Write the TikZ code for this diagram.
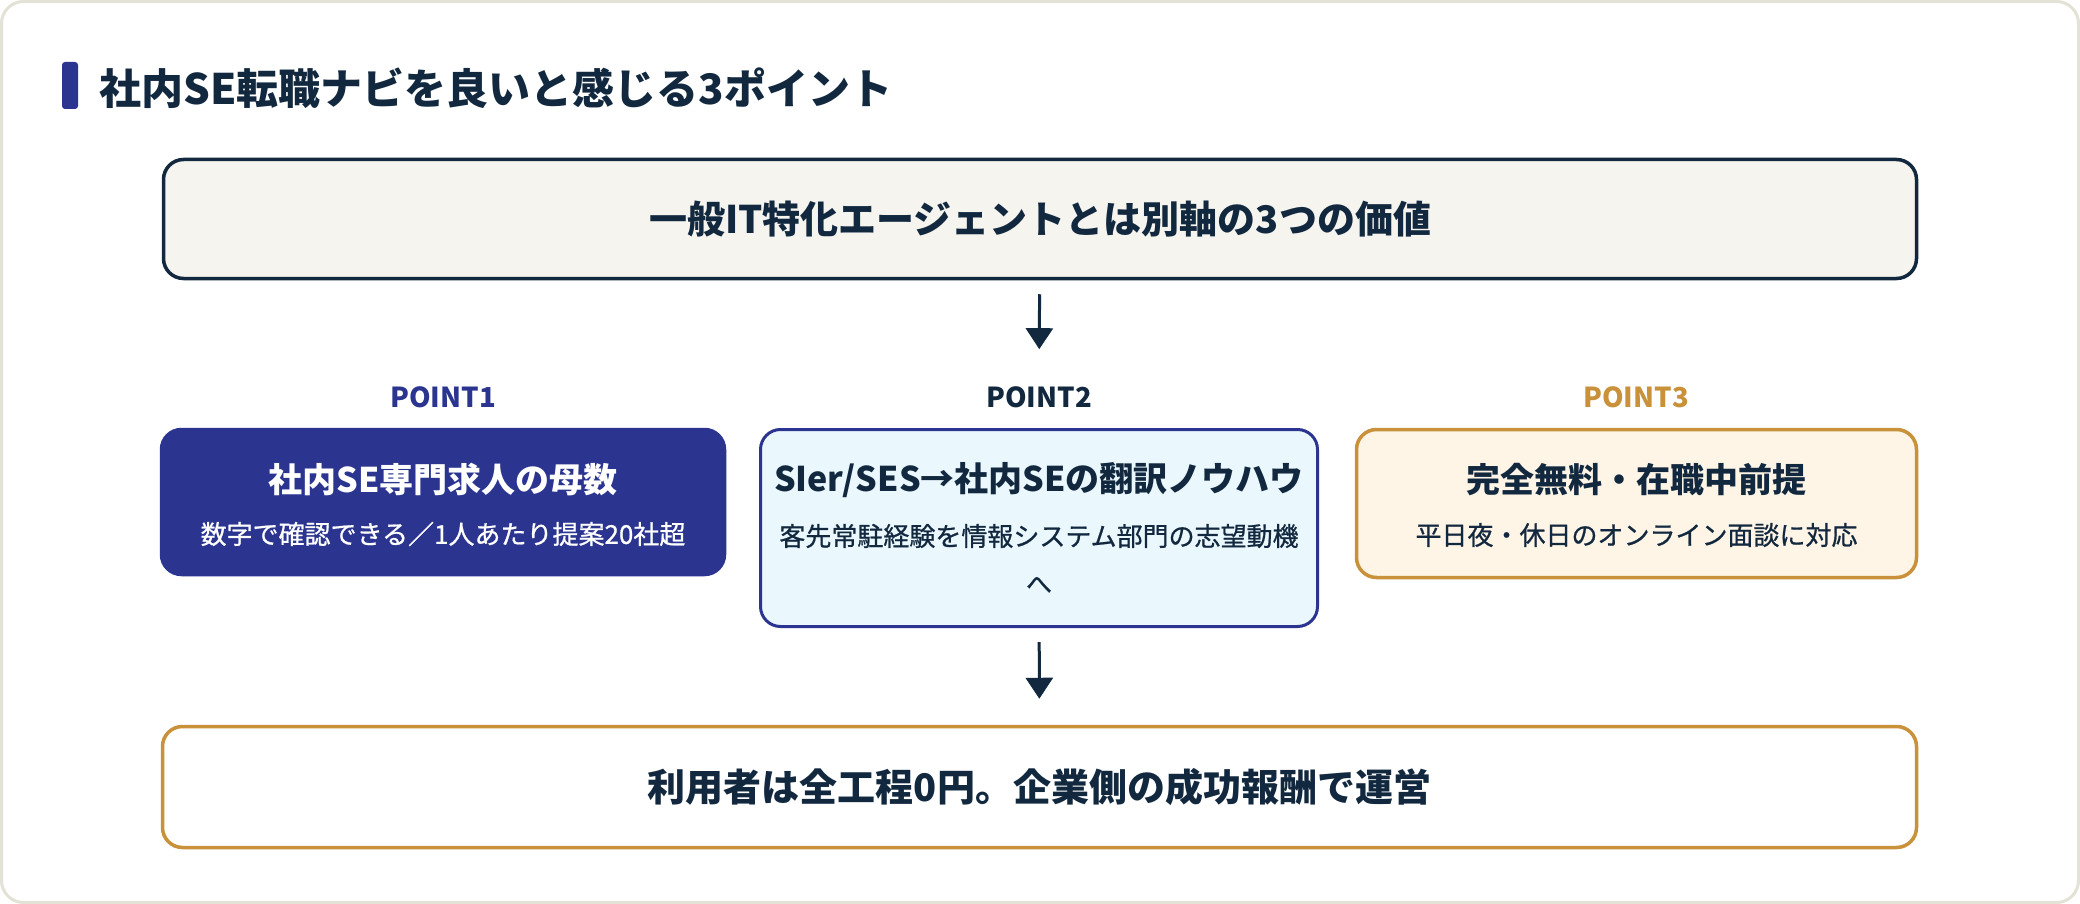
\documentclass[tikz,border=0pt]{standalone}
\usepackage{fontspec}
\setmainfont{Noto Sans CJK JP}
\newfontfamily\medfont{Noto Sans CJK JP}[FakeBold=0.8]
\usetikzlibrary{arrows.meta}
\definecolor{navy}{HTML}{12283F}
\definecolor{indigo}{HTML}{2B3590}
\definecolor{gold}{HTML}{C8913A}
\definecolor{paper}{HTML}{F5F4EF}
\definecolor{ice}{HTML}{EAF8FE}
\definecolor{cream}{HTML}{FEF5E6}
\definecolor{rim}{HTML}{E4E2D6}
\newcommand{\txtsize}[1]{\fontsize{#1}{#1}\selectfont}
\begin{document}
\begin{tikzpicture}[x=1pt, y=-1pt,
    card/.style={draw, rounded corners=20pt, line width=3.5pt, inner sep=0pt},
    flow/.style={navy, line width=3pt, -{Triangle[length=21pt, width=27pt]}},
    head/.style={font=\bfseries\txtsize{34}, text=navy, inner sep=0pt},
    sub/.style={font=\medfont\txtsize{26}, text=navy, inner sep=0pt, align=center},
    tag/.style={font=\bfseries\txtsize{27.5}, inner sep=0pt}]
    \useasboundingbox (0,0) rectangle (2080,904);
    \fill[white] (0,0) rectangle (2080,904);
    \draw[rim, line width=3pt, fill=white, rounded corners=22pt] (1.5,1.5) rectangle (2078.5,902.5);
    \fill[indigo, rounded corners=3pt] (62,62) rectangle (78,109);
    \node[anchor=west, font=\bfseries\txtsize{42}, text=navy, inner sep=0pt] (title) at (99,88) {社内SE転職ナビを良いと感じる3ポイント};

    \node[card, draw=navy, fill=paper, minimum width=1753pt, minimum height=119pt,
        font=\bfseries\txtsize{38}, text=navy] (top) at (1040,219) {一般IT特化エージェントとは別軸の3つの価値};

    \node[tag, text=indigo] (tag1) at (443,397) {POINT1};
    \node[tag, text=navy] (tag2) at (1039,397) {POINT2};
    \node[tag, text=gold] (tag3) at (1636,397) {POINT3};

    \node[card, draw=indigo, fill=indigo, minimum width=563pt, minimum height=145pt] (p1) at (443,502) {};
    \node[head, text=white] (p1head) at (443,480) {社内SE専門求人の母数};
    \node[sub, text=white] (p1sub) at (443,534) {数字で確認できる／1人あたり提案20社超};

    \node[card, draw=indigo, line width=3pt, fill=ice, minimum width=557pt, minimum height=197pt] (p2) at (1039,528) {};
    \node[head] (p2head) at (1039,480) {SIer/SES→社内SEの翻訳ノウハウ};
    \node[sub] (p2sub) at (1039,536) {客先常駐経験を情報システム部門の志望動機};
    \node[sub] (p2sub2) at (1039,585) {へ};

    \node[card, draw=gold, fill=cream, minimum width=560pt, minimum height=148pt] (p3) at (1636.5,503.5) {};
    \node[head] (p3head) at (1636.5,480) {完全無料・在職中前提};
    \node[sub] (p3sub) at (1636.5,535) {平日夜・休日のオンライン面談に対応};

    \node[card, draw=gold, fill=white, minimum width=1754pt, minimum height=121pt,
        font=\bfseries\txtsize{38}, text=navy] (goal) at (1039.5,787) {利用者は全工程0円。企業側の成功報酬で運営};

    \draw[flow, shorten <=14pt, shorten >=37pt] (top) -- (tag2);
    \draw[flow, shorten <=14pt, shorten >=26pt] (p2) -- (goal);
\end{tikzpicture}
\end{document}
